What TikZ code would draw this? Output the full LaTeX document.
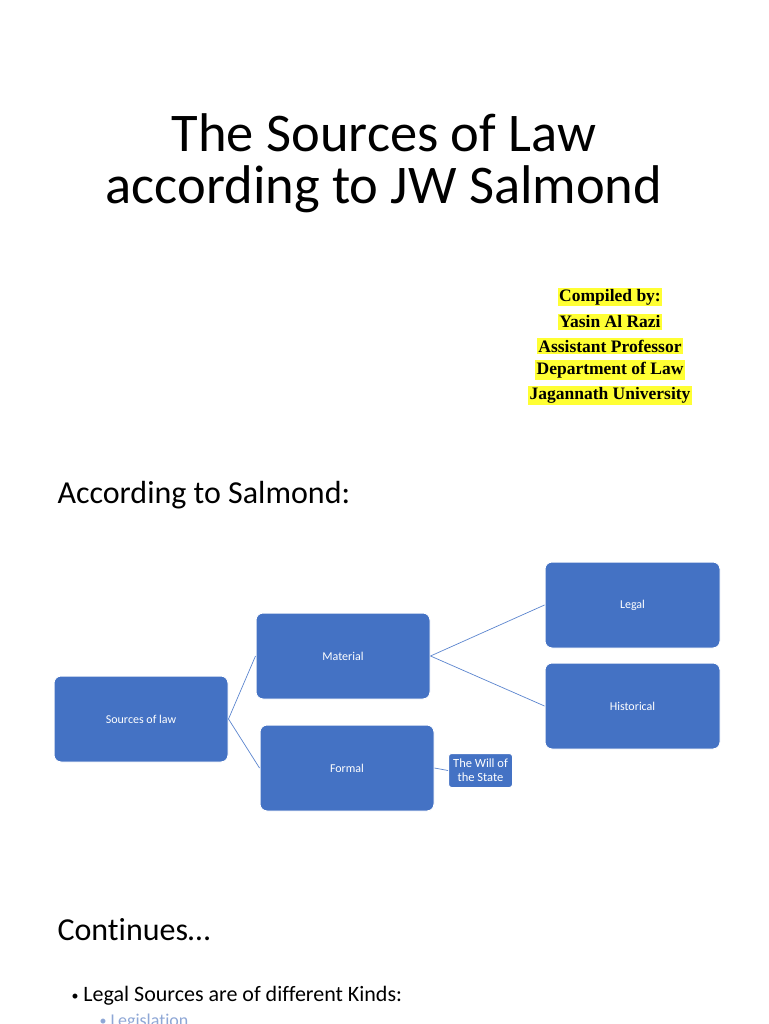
\documentclass[tikz,border=0pt]{standalone}
\usepackage{fontspec}
\setmainfont{Carlito}[Ligatures={NoCommon}]
\newfontfamily\hlfont{Liberation Serif}
\definecolor{boxblue}{HTML}{4472C4}
\definecolor{linkblue}{HTML}{5B85CF}
\definecolor{hlyellow}{HTML}{FFFF33}
\definecolor{subgray}{HTML}{8EA7D6}
\newcommand{\smbul}{{\fontsize{14}{14}\selectfont\raisebox{0.1em}{\textbullet}}}
\begin{document}
\begin{tikzpicture}[x=1pt,y=-1pt,
  bx/.style={draw=white,line width=1pt,fill=boxblue,rounded corners=7pt,text=white,font=\fontsize{12}{14}\selectfont,align=center,inner sep=0pt},
  lk/.style={draw=linkblue,line width=0.7pt},
  hl/.style={fill=hlyellow,inner sep=1.5pt,font=\hlfont\bfseries\fontsize{17.5}{20}\selectfont}]
\useasboundingbox (0,0) rectangle (768,1024);
\fill[white] (0,0) rectangle (768,1024);
\node[align=center,font=\fontsize{54.5}{52}\selectfont,inner sep=0pt] (title) at (384,163) {The Sources of Law\\according to JW Salmond};
\node[hl] (h1) at (610,297) {Compiled by:};
\node[hl] (h2) at (610,322) {Yasin Al Razi};
\node[hl] (h3) at (610,346) {Assistant Professor};
\node[hl] (h4) at (610,370) {Department of Law};
\node[hl] (h5) at (610,395) {Jagannath University};
\node[anchor=west] (acc) at (54,495) {\fontsize{32}{36}\selectfont According to Salmond:};
\node[bx,minimum width=174pt,minimum height=86pt] (src) at (141,719) {Sources of law};
\node[bx,minimum width=174pt,minimum height=86pt] (mat) at (343,656) {Material};
\node[bx,minimum width=174pt,minimum height=86pt] (frm) at (347,768) {Formal};
\node[bx,minimum width=175pt,minimum height=86pt] (leg) at (632.5,605) {Legal};
\node[bx,minimum width=175pt,minimum height=86pt] (his) at (632.5,706) {Historical};
\node[bx,rounded corners=3pt,minimum width=64pt,minimum height=34pt,font=\fontsize{12.5}{14}\selectfont] (will) at (480.5,770.5) {The Will of\\the State};
\draw[lk] (src.east) -- (mat.west);
\draw[lk] (src.east) -- (frm.west);
\draw[lk] (mat.east) -- (leg.west);
\draw[lk] (mat.east) -- (his.west);
\draw[lk] (frm.east) -- (will.west);
\node[anchor=west] (cont) at (54,930) {\fontsize{32}{36}\selectfont Continues\ldots};
\node[anchor=west] (b1) at (68,996) {\fontsize{22}{24}\selectfont \smbul\ Legal Sources are of different Kinds:};
\node[anchor=west,text=subgray] (b2) at (96,1022) {\fontsize{18}{20}\selectfont \smbul\ Legislation};
\end{tikzpicture}
\end{document}
